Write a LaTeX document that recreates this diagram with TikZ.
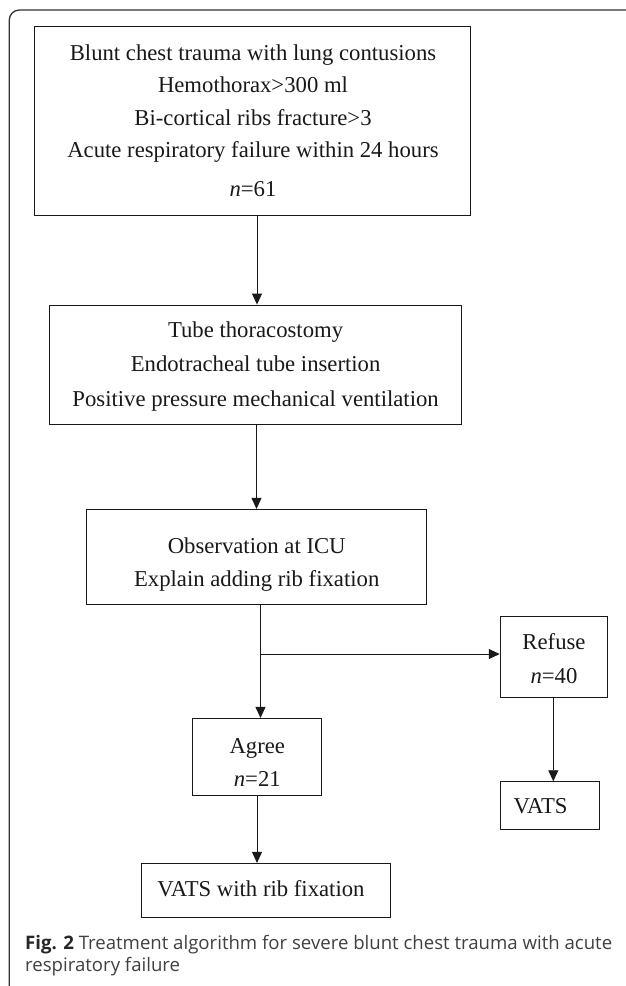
\documentclass[tikz,border=0pt]{standalone}
\usepackage{fontspec}
\setmainfont{Liberation Serif}
\newfontfamily\capfont{Open Sans}
\usetikzlibrary{arrows.meta}
\begin{document}
\begin{tikzpicture}[x=1pt,y=-1pt,
  box/.style={draw=black!90, line width=0.9pt, rectangle, inner sep=0pt},
  txt/.style={anchor=base, inner sep=0pt, font=\fontsize{22.7}{30}\selectfont, text=black!90},
  arr/.style={draw=black!90, line width=0.9pt, -{Triangle[length=11pt,width=10pt]}},
  frame/.style={draw=black!80, line width=1.3pt, rounded corners=10pt},
  captext/.style={anchor=base west, inner sep=0pt, font=\capfont\fontsize{18.6}{22}\selectfont, text=black!75}]
\useasboundingbox (0,0) rectangle (625,986);
\fill[white] (0,0) rectangle (625,986);
\draw[frame] (9.3,1000) -- (9.3,10) -- (640,10);

% boxes
\node[box, minimum width=436pt, minimum height=189pt] (b1) at (252.7,120.5) {};
\node[box, minimum width=411.7pt, minimum height=119pt] (b2) at (255.6,364.5) {};
\node[box, minimum width=339.6pt, minimum height=94.7pt] (b3) at (256.7,556.7) {};
\node[box, minimum width=107.6pt, minimum height=81.7pt] (refuse) at (554,656.9) {};
\node[box, minimum width=129pt, minimum height=76.7pt] (agree) at (257.2,756.7) {};
\node[box, minimum width=99.6pt, minimum height=47.6pt] (vats) at (550,805.5) {};
\node[box, minimum width=248.5pt, minimum height=53.7pt] (vrib) at (265.8,890.2) {};

% texts
\node[txt] (t1a) at (253,60.7) {Blunt chest trauma with lung contusions};
\node[txt] (t1b) at (253,92.7) {Hemothorax>300 ml};
\node[txt] (t1c) at (253,125) {Bi-cortical ribs fracture>3};
\node[txt] (t1d) at (253,157.3) {Acute respiratory failure within 24 hours};
\node[txt] (t1e) at (253,196) {\textit{n}=61};

\node[txt] (t2a) at (255.6,337.5) {Tube thoracostomy};
\node[txt] (t2b) at (255.6,371.7) {Endotracheal tube insertion};
\node[txt] (t2c) at (255.6,406) {Positive pressure mechanical ventilation};

\node[txt] (t3a) at (256.7,553) {Observation at ICU};
\node[txt] (t3b) at (256.7,586) {Explain adding rib fixation};

\node[txt] (tra) at (554,649.5) {Refuse};
\node[txt] (trb) at (554,683.3) {\textit{n}=40};

\node[txt] (taa) at (257.3,753.3) {Agree};
\node[txt] (tab) at (257.3,786.7) {\textit{n}=21};

\node[txt] (tv) at (540.6,813.3) {VATS};
\node[txt] (tvr) at (261,896.7) {VATS with rib fixation};

% connectors
\coordinate (xa) at (257,0);
\coordinate (xb) at (256.5,0);
\coordinate (xc) at (260.5,0);
\coordinate (xd) at (553.3,0);
\coordinate (br) at (260.5,654);
\draw[arr] (b1.south -| xa) -- (b2.north -| xa);
\draw[arr] (b2.south -| xb) -- (b3.north -| xb);
\draw[arr] (b3.south -| xc) -- (agree.north -| xc);
\draw[arr] (br) -- (br -| refuse.west);
\draw[arr] (refuse.south -| xd) -- (vats.north -| xd);
\draw[arr] (agree.south -| xa) -- (vrib.north -| xa);

% caption
\node[captext] (cap1) at (25,949) {{\bfseries\color{black!85}Fig. 2} Treatment algorithm for severe blunt chest trauma with acute};
\node[captext] (cap2) at (25,971) {respiratory failure};
\end{tikzpicture}
\end{document}
